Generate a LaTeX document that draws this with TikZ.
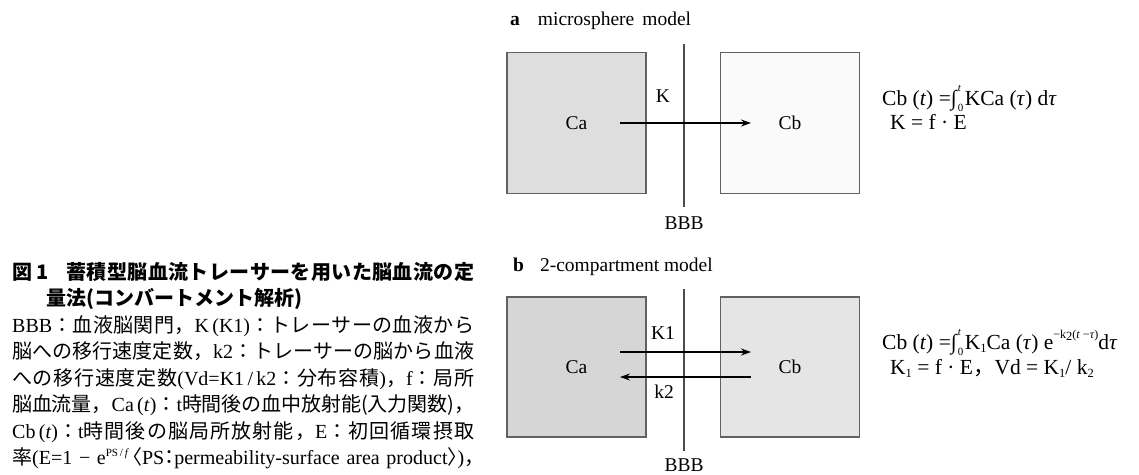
\documentclass[tikz,border=0pt]{standalone}
\usepackage{fontspec}
\setmainfont{Liberation Serif}
\newfontfamily\jp{Noto Sans CJK JP}
\usetikzlibrary{arrows.meta}

% Stretchable glue between consecutive CJK characters, so that each
% caption line can be set to the full measure.
\XeTeXinterchartokenstate=1
\newcount\cjkc
\def\cjkrange#1#2{\cjkc=#1 \loop \XeTeXcharclass\cjkc=7 \advance\cjkc 1 \ifnum\cjkc<#2 \repeat}
\cjkrange{"3000}{"3100}
\cjkrange{"4E00}{"A000}
\cjkrange{"FF01}{"FF61}
\XeTeXinterchartoks 7 7 = {\hskip 0pt plus 4pt minus 0.8pt\relax}

\definecolor{boxedge}{gray}{0.38}
\definecolor{bbbline}{gray}{0.30}
\definecolor{fillCaA}{gray}{0.87}
\definecolor{fillCbA}{gray}{0.98}
\definecolor{fillCaB}{gray}{0.84}
\definecolor{fillCbB}{gray}{0.90}

\newcommand{\labsize}{\fontsize{19.5}{23}\selectfont}
\newcommand{\capsize}{\fontsize{20}{26}\selectfont}
\newcommand{\eqsize}{\fontsize{21.5}{24}\selectfont}
\newcommand{\upidx}[1]{\raisebox{0.5em}{\fontsize{12}{12}\selectfont #1}}
\newcommand{\capsup}[1]{\raisebox{0.38em}{\fontsize{11}{11}\selectfont #1}}
\newcommand{\lowidx}[1]{\raisebox{-0.15em}{\fontsize{12.5}{12.5}\selectfont #1}}
% integral from 0 to t, set in text
\newcommand{\intzt}{∫\kern1pt\makebox[0pt][l]{\raisebox{0.62em}{\fontsize{11}{11}\selectfont\textit{t}}}\raisebox{-0.28em}{\fontsize{11}{11}\selectfont 0}\kern1.5pt}
\newcommand{\halfL}[1]{\makebox[0.5em][r]{\jp #1}}
\newcommand{\halfR}[1]{\makebox[0.5em][l]{\jp #1}}
\newcommand{\halfC}[1]{\makebox[0.5em][c]{\jp #1}}

\tikzset{
  comp/.style={draw=boxedge, line width=1.3pt, minimum width=139pt,
    minimum height=141pt, inner sep=0pt, font=\labsize},
  flow/.style={line width=1.1pt, -{Stealth[length=10pt,width=7pt]}},
  barrier/.style={draw=bbbline, line width=1.2pt},
  lab/.style={inner sep=0pt, font=\labsize},
  title/.style={anchor=base west, inner sep=0pt, font=\labsize},
  capline/.style={anchor=base west, inner sep=0pt, font=\capsize},
  eqline/.style={anchor=base west, inner sep=0pt, font=\eqsize},
}

\begin{document}
\begin{tikzpicture}[x=1pt,y=-1pt]
\useasboundingbox[fill=white] (0,0) rectangle (1139,474);

% ---------- caption ----------
\node[capline] (cap1) at (12,279) {\hbox to 462pt{\jp\bfseries 図\kern4pt 1\kern18pt 蓄積型脳血流トレーサーを用いた脳血流の定}};
\node[capline] (cap2) at (46,305.5) {\jp\bfseries 量法(コンバートメント解析)};
\node[capline] (cap3) at (12,332) {\hbox to 462pt{BBB{\jp：血液脳関門，}K\,(K1){\jp：トレーサーの血液から}}};
\node[capline] (cap4) at (12,358.5) {\hbox to 462pt{{\jp 脳への移行速度定数，}k2{\jp：トレーサーの脳から血液}}};
\node[capline] (cap5) at (12,385) {\hbox to 462pt{{\jp への移行速度定数}(Vd=K1\,/\,k2{\jp：分布容積}){\jp ，}f{\jp：局所}}};
\node[capline] (cap6) at (12,411.5) {\hbox to 462pt{{\jp 脳血流量，}Ca\,(\textit{t}){\jp：}t{\jp 時間後の血中放射能(入力関数)，}}};
\node[capline] (cap7) at (12,438) {\hbox to 462pt{Cb\,(\textit{t}){\jp：}t{\jp 時間後の脳局所放射能，}E{\jp：初回循環摂取}}};
\node[capline] (cap8) at (12,464.5) {\hbox to 462pt{{\jp 率}(E=1 − e\capsup{PS\,/\,\textit{f}}\kern3pt\halfL{〈}PS\halfC{：}permeability-surface area product\halfR{〉})\halfR{，}}};

% ---------- a: microsphere model ----------
\node[title] (ta) at (510,25) {\textbf{a}\kern18pt microsphere\kern8pt model};
\node[comp, fill=fillCaA] (caA) at (576.5,123) {Ca};
\node[comp, fill=fillCbA] (cbA) at (790,123) {Cb};
\coordinate (bbbAtop) at (684,44);
\coordinate (bbbAbot) at (684,207);
\draw[barrier] (bbbAtop) -- (bbbAbot);
\node[lab] (bbbA) at (684,223) {BBB};
\coordinate (kA0) at (620,123);
\coordinate (kA1) at (751,123);
\draw[flow] (kA0) -- (kA1);
\node[lab] (kAlab) at (663,96) {K};

\node[eqline] (eqA1) at (882,105) {Cb (\textit{t}) =\intzt KCa (\textit{τ}) d\textit{τ}};
\node[eqline] (eqA2) at (890,129) {K = f · E};

% ---------- b: 2-compartment model ----------
\node[title] (tb) at (513,271) {\textbf{b}\kern16pt 2-compartment model};
\node[comp, fill=fillCaB, minimum height=140pt] (caB) at (576.5,367) {Ca};
\node[comp, fill=fillCbB, minimum height=140pt] (cbB) at (790,367) {Cb};
\coordinate (bbbBtop) at (684,289);
\coordinate (bbbBbot) at (684,451);
\draw[barrier] (bbbBtop) -- (bbbBbot);
\node[lab] (bbbB) at (684,465) {BBB};
\coordinate (k1a) at (620,352);
\coordinate (k1b) at (751,352);
\coordinate (k2a) at (751,377);
\coordinate (k2b) at (620,377);
\draw[flow] (k1a) -- (k1b);
\draw[flow] (k2a) -- (k2b);
\node[lab] (k1lab) at (663,333) {K1};
\node[lab] (k2lab) at (664,392) {k2};

\node[eqline] (eqB1) at (882,349) {Cb (\textit{t}) =\intzt K\lowidx{1}Ca (\textit{τ}) e\upidx{−k\lowidx{2}(\textit{t} −\textit{τ})}d\textit{τ}};
\node[eqline] (eqB2) at (890,374) {K\lowidx{1} = f · E{\jp ，}Vd = K\lowidx{1}/ k\lowidx{2}};
\end{tikzpicture}
\end{document}
